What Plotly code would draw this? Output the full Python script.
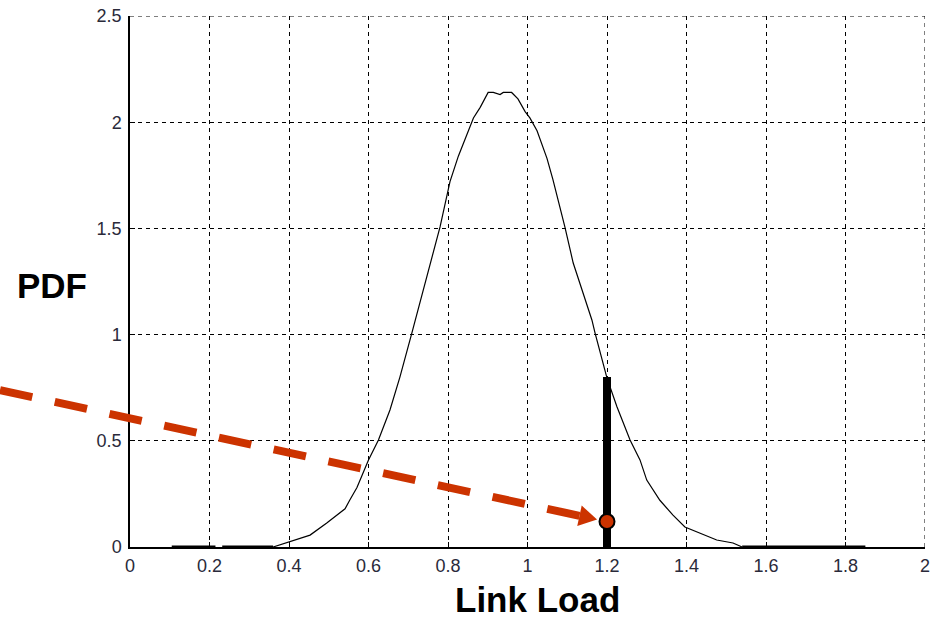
import plotly.graph_objects as go

# ---- data ----
load_x = [0.36, 0.40, 0.453, 0.495, 0.541, 0.553, 0.571, 0.60, 0.625, 0.654, 0.679, 0.709,
          0.755, 0.78, 0.805, 0.826, 0.864, 0.881, 0.901, 0.914, 0.931, 0.939, 0.96, 0.976,
          0.994, 1.006, 1.024, 1.049, 1.064, 1.082, 1.094, 1.115, 1.145, 1.162, 1.170, 1.20,
          1.225, 1.258, 1.283, 1.30, 1.333, 1.366, 1.396, 1.434, 1.476, 1.517, 1.54]
pdf_y = [0.0, 0.024, 0.056, 0.113, 0.18, 0.221, 0.28, 0.41, 0.504, 0.645, 0.80, 1.007,
         1.337, 1.507, 1.72, 1.84, 2.02, 2.07, 2.14, 2.14, 2.13, 2.14, 2.14, 2.11,
         2.05, 2.02, 1.96, 1.83, 1.73, 1.60, 1.507, 1.337, 1.163, 1.069, 1.007, 0.795,
         0.66, 0.504, 0.41, 0.315, 0.22, 0.15, 0.094, 0.066, 0.033, 0.019, 0.0]

zero_x = [0.105, 0.215, None, 0.232, 0.36, None, 1.54, 1.85]
zero_y = [0, 0, None, 0, 0, None, 0, 0]

bar_x = [1.2, 1.2]
bar_y = [0, 0.8]

point_x = [1.2]
point_y = [0.12]

arrow_start = (-0.327, 0.739)
arrow_tip = (1.175, 0.129)

x_ticks = [0, 0.2, 0.4, 0.6, 0.8, 1, 1.2, 1.4, 1.6, 1.8, 2]
x_ticklabels = ["0", "0.2", "0.4", "0.6", "0.8", "1", "1.2", "1.4", "1.6", "1.8", "2"]
y_ticks = [0, 0.5, 1, 1.5, 2, 2.5]
y_ticklabels = ["0", "0.5", "1", "1.5", "2", "2.5"]

X_RANGE = [0, 2]
Y_RANGE = [0, 2.5]

# ---- layout geometry ----
W, H = 940, 619
ML, MR, MT, MB = 130, 15, 16, 72
PW, PH = W - ML - MR, H - MT - MB

RED = "#CC3300"

fig = go.Figure()
fig.add_trace(go.Scatter(x=load_x, y=pdf_y, mode="lines",
                         line=dict(color="black", width=1.2), hoverinfo="skip"))
fig.add_trace(go.Scatter(x=zero_x, y=zero_y, mode="lines",
                         line=dict(color="black", width=3), hoverinfo="skip"))
fig.add_trace(go.Scatter(x=bar_x, y=bar_y, mode="lines",
                         line=dict(color="black", width=8), hoverinfo="skip"))

# dashed box edges (top and right grid lines at the range limits)
fig.add_shape(type="line", xref="x", yref="y", x0=X_RANGE[0], x1=X_RANGE[1],
              y0=Y_RANGE[1], y1=Y_RANGE[1], layer="below",
              line=dict(color="black", width=1, dash="4px,4px"))
fig.add_shape(type="line", xref="x", yref="y", x0=X_RANGE[1], x1=X_RANGE[1],
              y0=Y_RANGE[0], y1=Y_RANGE[1], layer="below",
              line=dict(color="black", width=1, dash="4px,4px"))


def to_px(x, y):
    px = ML + (x - X_RANGE[0]) / (X_RANGE[1] - X_RANGE[0]) * PW
    py = MT + PH - (y - Y_RANGE[0]) / (Y_RANGE[1] - Y_RANGE[0]) * PH
    return px, py


def to_paper(px, py):
    return (px - ML) / PW, (MT + PH - py) / PH


sx, sy = to_px(*arrow_start)
tx, ty = to_px(*arrow_tip)
dx, dy = tx - sx, ty - sy
L = (dx * dx + dy * dy) ** 0.5
ux, uy = dx / L, dy / L
nx, ny = -uy, ux
head_len, head_half = 18, 10.5
bx, by = tx - head_len * ux, ty - head_len * uy

p_s = to_paper(sx, sy)
p_b = to_paper(bx + 2 * ux, by + 2 * uy)
fig.add_shape(type="line", xref="paper", yref="paper",
              x0=p_s[0], y0=p_s[1], x1=p_b[0], y1=p_b[1],
              line=dict(color=RED, width=8, dash="33px,23px"))
c1 = to_paper(bx + head_half * nx, by + head_half * ny)
c2 = to_paper(bx - head_half * nx, by - head_half * ny)
tp = to_paper(tx, ty)
fig.add_shape(type="path", xref="paper", yref="paper",
              path=f"M {c1[0]} {c1[1]} L {tp[0]} {tp[1]} L {c2[0]} {c2[1]} Z",
              fillcolor=RED, line=dict(color=RED, width=0))

fig.add_trace(go.Scatter(x=point_x, y=point_y, mode="markers",
                         marker=dict(color=RED, size=15, line=dict(color="black", width=2)),
                         hoverinfo="skip", cliponaxis=False))

axis_common = dict(
    showgrid=True, gridcolor="black", gridwidth=1, griddash="4px,4px",
    zeroline=False, showline=True, linecolor="black", linewidth=1.5,
    ticks="inside", ticklen=5, tickcolor="black", tickwidth=1,
    automargin=False,
    tickfont=dict(family="Liberation Sans, Arial, sans-serif", size=18, color="#2a2a3a"),
)

fig.update_layout(
    width=W, height=H,
    margin=dict(l=ML, r=MR, t=MT, b=MB, autoexpand=False),
    paper_bgcolor="white", plot_bgcolor="white",
    showlegend=False,
    xaxis=dict(range=X_RANGE, tickvals=x_ticks, ticktext=x_ticklabels,
               ticklabelstandoff=2, **axis_common),
    yaxis=dict(range=Y_RANGE, tickvals=y_ticks, ticktext=y_ticklabels,
               ticklabelstandoff=3, **axis_common),
    annotations=[
        dict(text="<b>Link Load</b>", xref="paper", yref="paper",
             x=(537 - ML) / PW, y=(MT + PH - 599) / PH, showarrow=False,
             xanchor="center", yanchor="middle",
             font=dict(family="Liberation Sans, Arial, sans-serif", size=35, color="black")),
        dict(text="<b>PDF</b>", xref="paper", yref="paper",
             x=(52 - ML) / PW, y=(MT + PH - 285) / PH, showarrow=False,
             xanchor="center", yanchor="middle",
             font=dict(family="Liberation Sans, Arial, sans-serif", size=35, color="black")),
    ],
)

fig.write_html("out.html", config={"displayModeBar": False},
               post_script="document.body.style.margin='0px';document.body.style.overflow='hidden';")
